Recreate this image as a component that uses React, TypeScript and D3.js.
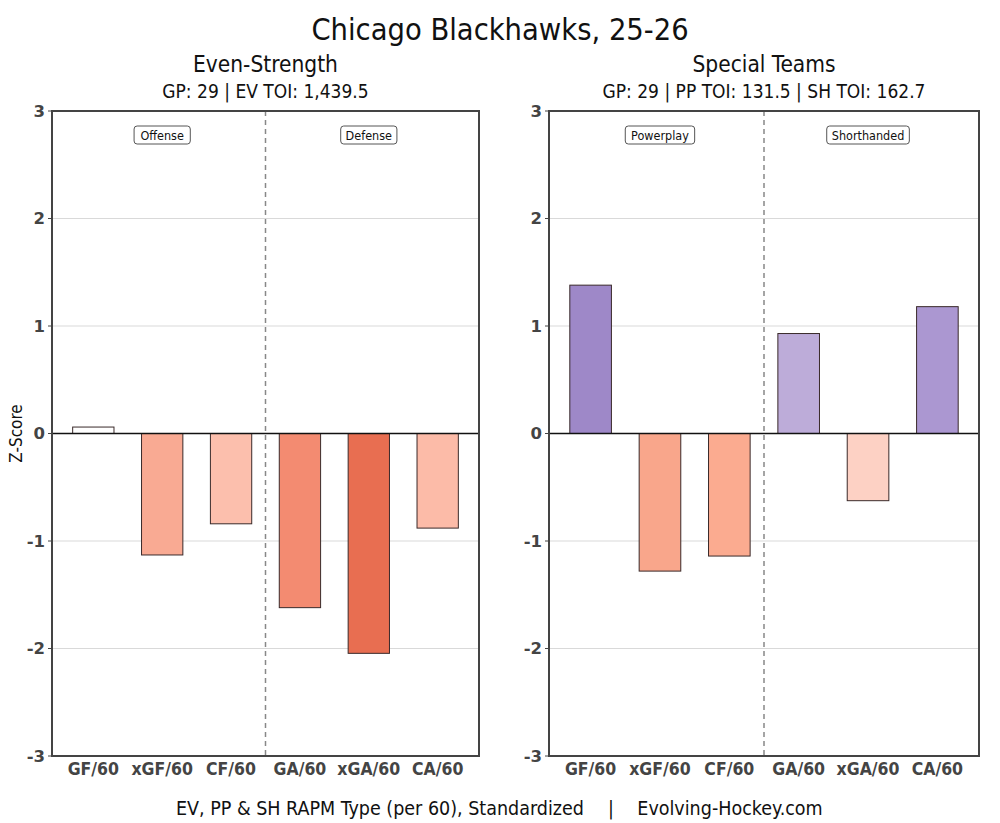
import React from "react";
import * as d3 from "d3";

const categories = ["GF/60", "xGF/60", "CF/60", "GA/60", "xGA/60", "CA/60"];
const evValues = [0.06, -1.13, -0.84, -1.62, -2.045, -0.88];
const evColors = ["#ffffff", "#f9aa93", "#fcbfad", "#f38b71", "#e86e51", "#fcbba8"];
const stValues = [1.38, -1.28, -1.14, 0.93, -0.625, 1.18];
const stColors = ["#9e88c8", "#f9a68b", "#fbab90", "#bdacd9", "#fdd1c4", "#ab97d1"];
const yTicks = [3, 2, 1, 0, -1, -2, -3];

const CONDENSED = "'DejaVu Sans Condensed', 'DejaVu Sans', sans-serif";
const BOLD = "'DejaVu Sans', sans-serif";

type PanelProps = {
  left: number;
  right: number;
  title: string;
  subtitle: string;
  values: number[];
  colors: string[];
  boxLabels: [string, string];
  showYLabel: boolean;
};

const TOP = 111;
const BOTTOM = 756;

function Panel({ left, right, title, subtitle, values, colors, boxLabels, showYLabel }: PanelProps) {
  const x = d3.scaleLinear().domain([-0.6, 5.6]).range([left, right]);
  const y = d3.scaleLinear().domain([-3, 3]).range([BOTTOM, TOP]);
  const bw = x(0.6) - x(0);
  const cx = (left + right) / 2;
  return (
    <g>
      <text x={cx} y={72} textAnchor="middle" fontFamily={CONDENSED} fontSize={22.5} fill="#111">{title}</text>
      <text x={cx} y={98} textAnchor="middle" fontFamily={CONDENSED} fontSize={19} fill="#111">{subtitle}</text>
      {yTicks.filter((t) => t !== 0 && Math.abs(t) !== 3).map((t) => (
        <line key={"g" + t} x1={left} x2={right} y1={y(t)} y2={y(t)} stroke="#d9d9d9" strokeWidth={1} />
      ))}
      <line x1={x(2.5)} x2={x(2.5)} y1={TOP} y2={BOTTOM} stroke="#888" strokeWidth={1.5} strokeDasharray="5,4" />
      {values.map((v, i) => (
        <rect
          key={i}
          x={x(i) - bw / 2}
          y={y(Math.max(0, v))}
          width={bw}
          height={Math.abs(y(v) - y(0))}
          fill={colors[i]}
          stroke="#3a2a2a"
          strokeWidth={1}
        />
      ))}
      <line x1={left} x2={right} y1={y(0)} y2={y(0)} stroke="#111" strokeWidth={1.3} />
      <rect x={left} y={TOP} width={right - left} height={BOTTOM - TOP} fill="none" stroke="#444" strokeWidth={2} />
      {yTicks.map((t) => (
        <g key={"t" + t}>
          <line x1={left - 4} x2={left} y1={y(t)} y2={y(t)} stroke="#444" strokeWidth={1} />
          <text x={left - 7} y={y(t)} dy="0.35em" textAnchor="end" fontFamily={BOLD} fontWeight="bold" fontSize={16.5} fill="#444">{t}</text>
        </g>
      ))}
      {categories.map((c, i) => (
        <text key={c} x={x(i)} y={775} textAnchor="middle" fontFamily={CONDENSED} fontWeight="bold" fontSize={17.5} fill="#444">{c}</text>
      ))}
      {boxLabels.map((b, k) => {
        const bx = k === 0 ? x(1) : x(4);
        const w = b.length * 6.6 + 10;
        return (
          <g key={b}>
            <rect x={bx - w / 2} y={126} width={w} height={18} rx={3} fill="#fff" stroke="#555" strokeWidth={1} />
            <text x={bx} y={135} dy="0.36em" textAnchor="middle" fontFamily={CONDENSED} fontSize={12.5} fill="#111">{b}</text>
          </g>
        );
      })}
      {showYLabel && (
        <text transform={`translate(22,${y(0)}) rotate(-90)`} textAnchor="middle" fontFamily={CONDENSED} fontSize={17} fill="#111">Z-Score</text>
      )}
    </g>
  );
}

export default function App() {
  return (
    <svg width={1000} height={823} style={{ display: "block", position: "absolute", left: 0, top: 0, background: "#fff" }}>
      <rect width={1000} height={823} fill="#fff" />
      <text x={500} y={40} textAnchor="middle" fontFamily={CONDENSED} fontSize={30.5} fill="#111">Chicago Blackhawks, 25-26</text>
      <Panel left={52} right={479} title="Even-Strength" subtitle="GP: 29 | EV TOI: 1,439.5" values={evValues} colors={evColors} boxLabels={["Offense", "Defense"]} showYLabel={true} />
      <Panel left={549} right={979} title="Special Teams" subtitle="GP: 29 | PP TOI: 131.5 | SH TOI: 162.7" values={stValues} colors={stColors} boxLabels={["Powerplay", "Shorthanded"]} showYLabel={false} />
      <text x={380} y={815} textAnchor="middle" fontFamily={CONDENSED} fontSize={19.5} fill="#111">EV, PP &amp; SH RAPM Type (per 60), Standardized</text>
      <text x={611} y={815} textAnchor="middle" fontFamily={CONDENSED} fontSize={19.5} fill="#111">|</text>
      <text x={730} y={815} textAnchor="middle" fontFamily={CONDENSED} fontSize={19.5} fill="#111">Evolving-Hockey.com</text>
    </svg>
  );
}
